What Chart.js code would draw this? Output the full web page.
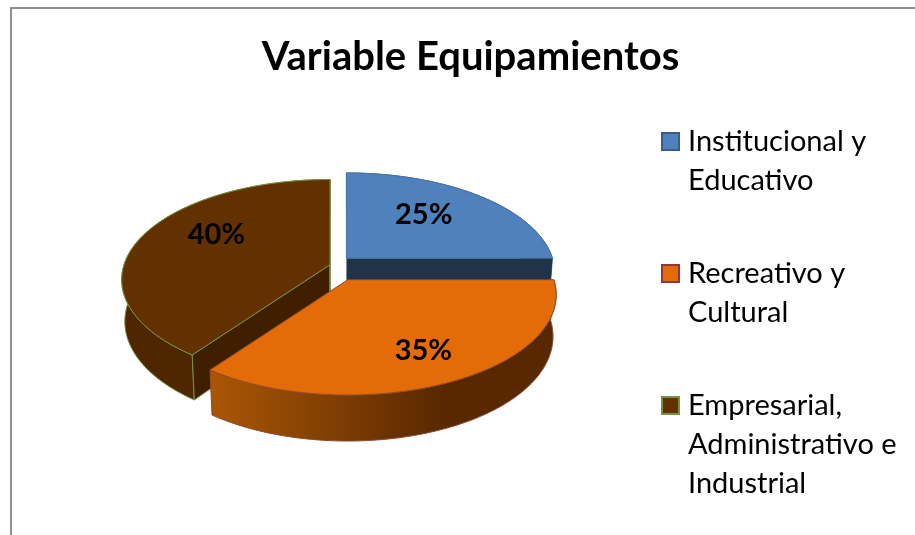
<!DOCTYPE html>
<html>
<head>
<meta charset="utf-8">
<title>Variable Equipamientos</title>
<style>
  html, body { margin: 0; padding: 0; background: #fff; overflow: hidden; }
  #wrap { position: relative; width: 915px; height: 535px; }
  #frame { position: absolute; left: 10px; top: 7px; right: 0; bottom: 0;
           border-left: 2px solid #8f8f8f; border-top: 2px solid #8f8f8f; }
  canvas { position: absolute; left: 0; top: 0; }
</style>
</head>
<body>
<div id="wrap">
  <div id="frame"></div>
  <canvas id="pie" width="915" height="535"></canvas>
</div>
<script src="https://cdn.jsdelivr.net/npm/chart.js@4/dist/chart.umd.min.js"></script>
<script>
// chart values
const categories = [
  ["Institucional y", "Educativo"],
  ["Recreativo y", "Cultural"],
  ["Empresarial,", "Administrativo e", "Industrial"],
];
const shares = [25, 35, 40];
const chartTitle = "Variable Equipamientos";

// look of each slice
const topColors = ["#4f81bd", "#e36c09", "#633100"];
const edgeColors = ["#47729f", "#8f4a2a", "#76923c"];
const wallColors = ["#1f3349", null, "#4e2700"];
const cutColors = ["#1f3349", null, "#3f1f00"]; // the orange cuts face away
const legendEdges = ["#385d8a", "#953735", "#76923c"];
const explode = [0.1, 0.165, 0.01];
const labelRadius = [0.62, 0.73, 0.66];
const labelTurn = [-0.08, 0, 0.19];

// 3d view of the unit disc
const view = { cx: 332, cy: 265, a: 206, b: 98, persp: 0.15, shrink: 0.985 };
const FONT = "Lato, Carlito, sans-serif";

function flat(u, v) {
  const w = 1 - view.persp * v;
  return [view.a * u / w, view.b * v / w];
}

function apexOf(i, arc) {
  const mid = (arc.startAngle + arc.endAngle) / 2;
  const p = flat(explode[i] * Math.cos(mid), explode[i] * Math.sin(mid));
  return [view.cx + p[0], view.cy + p[1]];
}

function rim(apex, angle) {
  const p = flat(Math.cos(angle), Math.sin(angle));
  return [apex[0] + p[0], apex[1] + p[1]];
}

function drop(apex, pt, v) {
  return [apex[0] + (pt[0] - apex[0]) * view.shrink, pt[1] + 41 + 5 * v];
}

function poly(ctx, pts, fill, stroke) {
  ctx.beginPath();
  pts.forEach((p, n) => (n ? ctx.lineTo(p[0], p[1]) : ctx.moveTo(p[0], p[1])));
  ctx.closePath();
  ctx.fillStyle = fill;
  ctx.fill();
  if (stroke) {
    ctx.lineWidth = 1;
    ctx.strokeStyle = stroke;
    ctx.stroke();
  }
}

function drawSlice(ctx, arc, i) {
  const apex = apexOf(i, arc);
  const steps = [];
  for (let a = arc.startAngle; a < arc.endAngle; a += Math.PI / 180) steps.push(a);
  steps.push(arc.endAngle);

  const low = (a) => drop(apex, rim(apex, a), Math.sin(a));
  const lowApex = drop(apex, apex, 0);

  // curved outer wall
  let wall = wallColors[i];
  if (!wall) {
    wall = ctx.createLinearGradient(210, 0, 445, 0);
    wall.addColorStop(0, "#ab5605");
    wall.addColorStop(1, "#582800");
  }
  const outer = steps.map((a) => rim(apex, a)).concat(steps.slice().reverse().map(low));
  poly(ctx, outer, wall, edgeColors[i]);

  // the two cut faces
  if (cutColors[i]) {
    [arc.startAngle, arc.endAngle].forEach((a) => {
      const edge = i === 2 ? edgeColors[i] : null;
      poly(ctx, [apex, rim(apex, a), low(a), lowApex], cutColors[i], edge);
    });
  }

  // top face
  poly(ctx, [apex].concat(steps.map((a) => rim(apex, a))), topColors[i], edgeColors[i]);
}

const pie3d = {
  id: "pie3d",
  beforeDatasetsDraw(chart) {
    const arcs = chart.getDatasetMeta(0).data;
    const ctx = chart.ctx;
    ctx.save();
    ctx.lineJoin = "round";
    [2, 0, 1].forEach((i) => drawSlice(ctx, arcs[i], i));

    // percent labels
    const total = shares.reduce((s, n) => s + n, 0);
    ctx.fillStyle = "#000";
    ctx.font = "bold 29px " + FONT;
    ctx.textAlign = "center";
    ctx.textBaseline = "middle";
    arcs.forEach((arc, i) => {
      const mid = (arc.startAngle + arc.endAngle) / 2 + labelTurn[i];
      const p = flat(labelRadius[i] * Math.cos(mid), labelRadius[i] * Math.sin(mid));
      const apex = apexOf(i, arc);
      ctx.fillText(Math.round(shares[i] / total * 100) + "%", apex[0] + p[0], apex[1] + p[1]);
    });
    ctx.restore();
    return false;
  },
  afterDraw(chart) {
    // legend, wrapped like the original
    const ctx = chart.ctx;
    ctx.save();
    ctx.font = "29px " + FONT;
    ctx.textAlign = "left";
    ctx.textBaseline = "alphabetic";
    categories.forEach((lines, i) => {
      const base = 151 + i * 132;
      ctx.fillStyle = topColors[i];
      ctx.strokeStyle = legendEdges[i];
      ctx.lineWidth = 2;
      ctx.fillRect(662, base - 18, 17, 17);
      ctx.strokeRect(662, base - 18, 17, 17);
      ctx.fillStyle = "#000";
      lines.forEach((line, n) => ctx.fillText(line, 688, base + n * 39));
    });
    ctx.restore();
  },
};

new Chart(document.getElementById("pie"), {
  type: "pie",
  data: {
    labels: categories,
    datasets: [{ data: shares, backgroundColor: topColors, borderColor: edgeColors }],
  },
  options: {
    responsive: false,
    animation: false,
    layout: { padding: { left: 26 } },
    plugins: {
      legend: { display: false },
      tooltip: { enabled: false },
      title: {
        display: true,
        text: chartTitle,
        color: "#000",
        font: { family: FONT, size: 40, weight: "bold" },
        padding: { top: 33, bottom: 20 },
      },
    },
  },
  plugins: [pie3d],
});
</script>
</body>
</html>
